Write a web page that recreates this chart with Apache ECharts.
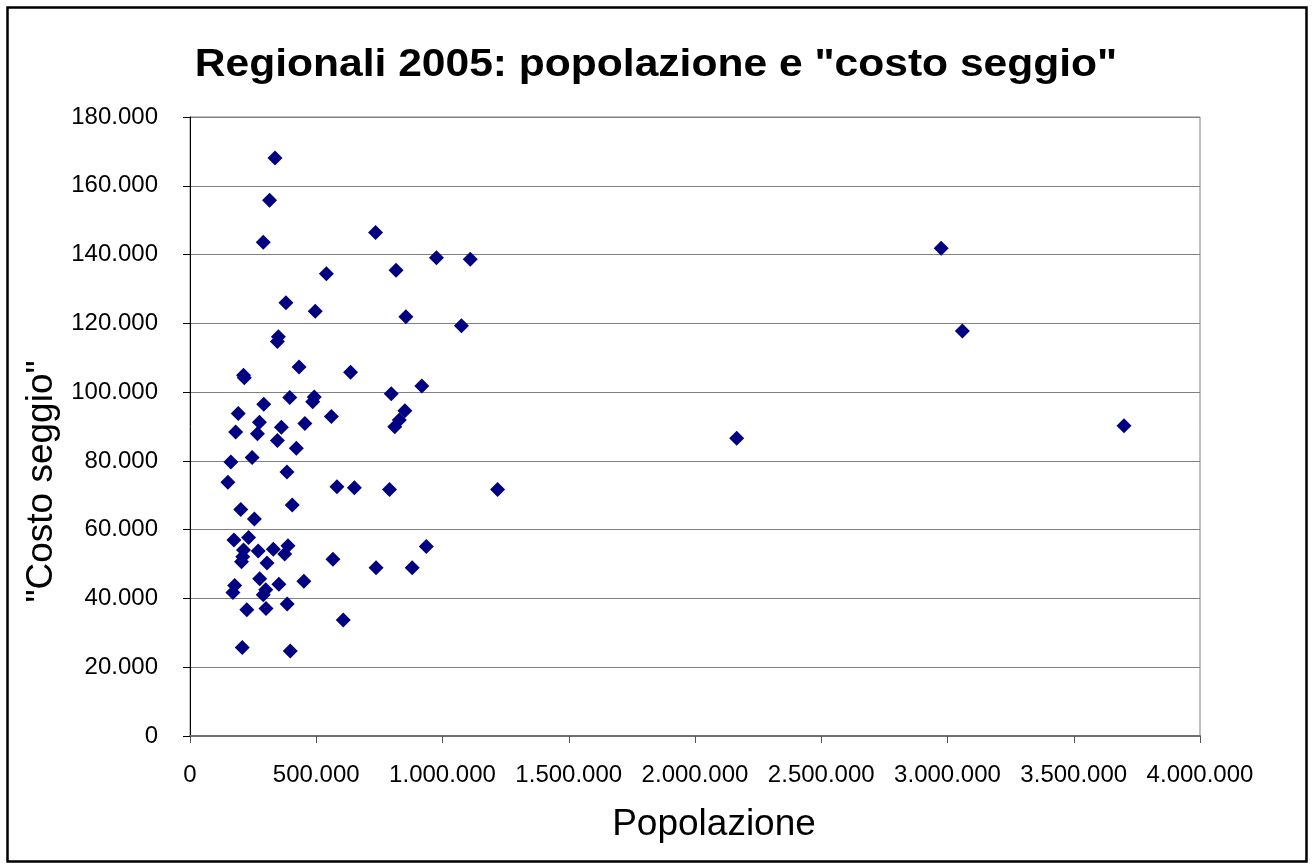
<!DOCTYPE html>
<html>
<head>
<meta charset="utf-8">
<script src="https://cdn.jsdelivr.net/npm/echarts@6/dist/echarts.min.js"></script>
<style>
html,body{margin:0;padding:0;background:#fff;}
#c{width:1312px;height:868px;}
</style>
</head>
<body>
<div id="c"></div>
<script>
const titleText = 'Regionali 2005: popolazione e "costo seggio"';
const xName = 'Popolazione';
const yName = '"Costo seggio"';

const popolazione = [
  336600, 315000, 290000, 540000, 380000, 496000, 350000, 346000, 432000, 212000,
  215000, 636000, 395000, 492000, 486000, 292000, 191000, 560000, 275000, 362000,
  455000, 181000, 267000, 346000, 421000, 246000, 162000, 384000, 150000, 582000,
  651000, 405000, 201000, 255000, 174000, 232000, 212000, 209000, 204000, 270000,
  330000, 388000, 375000, 305000, 566000, 276000, 352000, 451000, 177000, 170000,
  300000, 290000, 225000, 301000, 385000, 607000, 207000, 397000, 735000, 976000,
  1110000, 816000, 855000, 1075000, 918000, 797000, 851000, 829000, 811000, 790000,
  1218000, 936000, 737000, 880000, 2975000, 3059000, 2165000, 3699000
];
const costoSeggio = [
  168100, 155800, 143600, 134400, 126000, 123500, 116100, 114700, 107300, 104900,
  104200, 105800, 98400, 98600, 97200, 96500, 93800, 92900, 91200, 89800,
  90900, 88400, 87900, 85900, 83700, 81000, 79700, 76800, 73800, 72500,
  72200, 67200, 65900, 63100, 57000, 57700, 54100, 52100, 50700, 53800,
  54300, 55300, 52900, 50300, 51400, 45700, 44100, 45000, 43800, 41700,
  42500, 41100, 36700, 37100, 38400, 33700, 25700, 24700, 146400, 139100,
  138600, 135400, 121900, 119300, 101800, 99500, 94600, 91900, 89900, 71700,
  71700, 55100, 48900, 48900, 141800, 117800, 86600, 90200
];

const points = popolazione.map((p, i) => [p, costoSeggio[i]]);
const fmt = v => String(v).replace(/\B(?=(\d{3})+(?!\d))/g, '.');
const FONT = '"Liberation Sans", Arial, sans-serif';

const chart = echarts.init(document.getElementById('c'), null, {renderer: 'canvas'});
chart.setOption({
  backgroundColor: '#ffffff',
  animation: false,
  textStyle: {fontFamily: FONT, color: '#000'},
  grid: {left: 190, top: 117, right: 112, bottom: 132, show: true, borderColor: '#808080', borderWidth: 1, backgroundColor: '#ffffff'},
  xAxis: {
    type: 'value', min: 0, max: 4000000, interval: 500000,
    name: xName, nameLocation: 'middle', nameGap: 70,
    nameTextStyle: {fontFamily: FONT, fontSize: 37, color: '#000', padding: [0, 0, 0, 38]},
    axisLine: {show: true, lineStyle: {color: '#707070', width: 2}},
    axisTick: {show: true, length: 7, lineStyle: {color: '#555'}},
    axisLabel: {formatter: fmt, fontFamily: FONT, fontSize: 24, color: '#000', margin: 27},
    splitLine: {show: false}
  },
  yAxis: {
    type: 'value', min: 0, max: 180000, interval: 20000,
    name: yName, nameLocation: 'middle', nameRotate: 90, nameGap: 128,
    nameTextStyle: {fontFamily: FONT, fontSize: 37, color: '#000', padding: [0, 110, 0, 0]},
    axisLine: {show: true, lineStyle: {color: '#000', width: 1}},
    axisTick: {show: true, length: 7, lineStyle: {color: '#000'}},
    axisLabel: {formatter: fmt, fontFamily: FONT, fontSize: 24, color: '#000', margin: 32},
    splitLine: {show: true, lineStyle: {color: '#808080', width: 1}}
  },
  graphic: [
    {type: 'rect', silent: true, z: 100, shape: {x: 7.5, y: 7.5, width: 1299, height: 854},
      style: {fill: 'none', stroke: '#000', lineWidth: 2.5}},
    {type: 'text', z: 100, x: 656, y: 66, scaleX: 1.12, scaleY: 1,
      style: {text: titleText, fontFamily: FONT, fontSize: 38, fontWeight: 'bold', fill: '#000', align: 'center', verticalAlign: 'middle'}}
  ],
  series: [{
    type: 'scatter', data: points, symbol: 'diamond', symbolSize: 15,
    itemStyle: {color: '#000080', opacity: 1}
  }]
});
</script>
</body>
</html>
